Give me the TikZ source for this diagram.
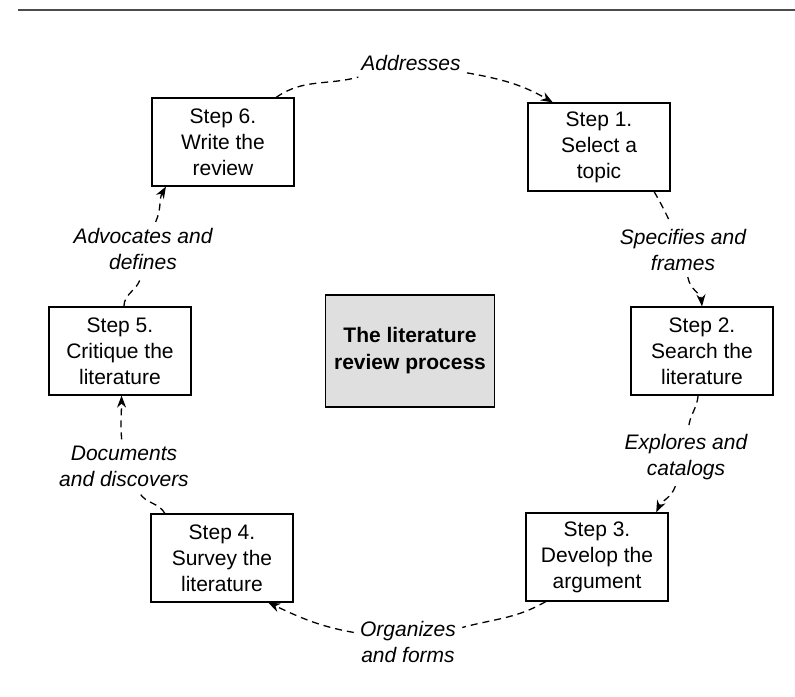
\documentclass[tikz,border=0pt]{standalone}
\usepackage{fontspec}
\setmainfont{Liberation Sans}
\usepackage{tikz}
\usetikzlibrary{arrows.meta}

\begin{document}
\begin{tikzpicture}[x=0.5pt, y=0.5pt,
    stepbox/.style={draw, line width=0.6pt, minimum width=71pt, minimum height=44pt,
        align=center, inner sep=2pt, font=\fontsize{10.5}{13}\selectfont},
    hubbox/.style={draw, line width=0.7pt, fill=gray!25, minimum width=84.5pt,
        minimum height=56pt, align=center, font=\fontsize{10.5}{13.5}\selectfont\bfseries},
    lbl/.style={align=center, inner sep=3pt, font=\fontsize{10.5}{13}\selectfont\itshape},
    flow/.style={line width=0.65pt, dash pattern=on 3.5pt off 2.5pt,
        -{Stealth[length=6pt, width=4.5pt]}}]

    % Frame of the page
    \useasboundingbox (0,0) rectangle (795,-696);
    \draw[gray!60!black, line width=0.9pt] (18,-10) -- (795,-10);

    % Steps round the circle
    \node[stepbox] (s6) at (223,-142) {Step 6.\\Write the\\review};
    \node[stepbox] (s1) at (599,-147) {Step 1.\\Select a\\topic};
    \node[stepbox] (s2) at (702,-351) {Step 2.\\Search the\\literature};
    \node[stepbox] (s3) at (597,-557) {Step 3.\\Develop the\\argument};
    \node[stepbox] (s4) at (222,-558) {Step 4.\\Survey the\\literature};
    \node[stepbox] (s5) at (120,-351) {Step 5.\\Critique the\\literature};

    % Centre box
    \node[hubbox] (hub) at (410,-351) {The literature\\review process};

    % Labels on the connectors
    \node[lbl] (addr) at (411,-63)  {Addresses};
    \node[lbl] (spec) at (683,-250) {Specifies and\\frames};
    \node[lbl] (expl) at (686,-457) {Explores and\\catalogs};
    \node[lbl] (org)  at (408,-642) {Organizes\\and forms};
    \node[lbl] (docs) at (124,-466) {Documents\\and discovers};
    \node[lbl] (adv)  at (143,-249) {Advocates and\\defines};

    % Connectors (clockwise)
    \draw[flow] (s6.40) to[out=35, in=195] (addr) to[out=-10, in=150] (s1.136);
    \draw[flow] (s1.-39) to[out=-60, in=115] (spec) to[out=-80, in=95] (s2.north);
    \draw[flow] (s2.-95) to[out=-95, in=85] (expl) to[out=-110, in=65] (s3.37);
    \draw[flow] (s3.-139) to[out=-150, in=15] (org) to[out=170, in=-25] (s4.-44);
    \draw[flow] (s4.142) to[out=120, in=-60] (docs) to[out=95, in=-90] (s5.-88);
    \draw[flow] (s5.85) to[out=90, in=-95] (adv) to[out=65, in=-120] (s6.-142);

\end{tikzpicture}
\end{document}
